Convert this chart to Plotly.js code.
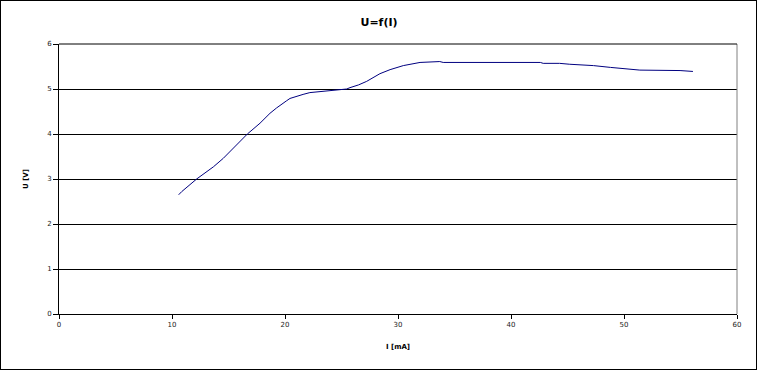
<!DOCTYPE html>
<html>
<head>
<meta charset="utf-8">
<script src="https://cdn.plot.ly/plotly-3.0.1.min.js"></script>
<style>
html,body{margin:0;padding:0;background:#fff;}
#wrap{position:relative;width:758px;height:370px;}
#frame{position:absolute;left:0;top:0;width:757px;height:370px;box-sizing:border-box;border:1px solid #000;pointer-events:none;}
</style>
</head>
<body>
<div id="wrap"><div id="chart" style="width:758px;height:370px;"></div><div id="frame"></div></div>
<script>
var currentI = [10.59, 10.86, 12.18, 13.66, 14.54, 15.72, 16.67, 17.79, 18.23, 18.67, 19.26, 19.56, 20.15, 20.44, 21.03, 21.6, 22.2, 23.4, 24.87, 25.46, 25.75, 26.5, 27.23, 27.8, 28.4, 29.3, 30.47, 31.95, 33.7, 34.0, 35.5, 42.6, 42.85, 44.3, 45.2, 46.4, 47.3, 48.8, 49.9, 51.4, 54.96, 56.1];
var voltageU = [2.65, 2.72, 3.00, 3.27, 3.46, 3.76, 4.00, 4.24, 4.36, 4.46, 4.58, 4.64, 4.74, 4.79, 4.84, 4.88, 4.92, 4.95, 4.97, 5.00, 5.03, 5.09, 5.17, 5.25, 5.34, 5.43, 5.52, 5.59, 5.61, 5.59, 5.59, 5.59, 5.57, 5.57, 5.55, 5.54, 5.52, 5.48, 5.45, 5.42, 5.41, 5.39];
var xTicks = [0, 10, 20, 30, 40, 50, 60];
var yTicks = [0, 1, 2, 3, 4, 5, 6];

var trace = {
  x: currentI, y: voltageU, type: 'scatter', mode: 'lines',
  line: {color: '#000080', width: 1}, hoverinfo: 'skip'
};
var tickFont = {family: 'DejaVu Sans, sans-serif', size: 7, color: '#222'};
var layout = {
  width: 758, height: 370,
  margin: {l: 59, r: 21, t: 44, b: 56},
  paper_bgcolor: '#fff', plot_bgcolor: '#fff',
  showlegend: false,
  title: {text: '<b>U=f(I)</b>', font: {family: 'DejaVu Sans, sans-serif', size: 11, color: '#000'}, x: 0.5, xanchor: 'center', y: 0.94, yanchor: 'middle'},
  xaxis: {
    range: [0, 60], tickvals: xTicks, ticktext: xTicks.map(String),
    ticks: 'outside', ticklen: 4, tickcolor: '#000', tickwidth: 1,
    showline: true, linecolor: '#000', linewidth: 1,
    showgrid: false, zeroline: false, tickfont: tickFont,
    title: {text: '<b>I [mA]</b>', font: {family: 'DejaVu Sans, sans-serif', size: 7, color: '#000'}, standoff: 15}
  },
  yaxis: {
    range: [0, 6], tickvals: yTicks, ticktext: yTicks.map(String),
    ticks: 'outside', ticklen: 5, tickcolor: '#000', tickwidth: 1,
    showline: true, linecolor: '#000', linewidth: 1,
    showgrid: true, gridcolor: '#000', gridwidth: 1, zeroline: false, tickfont: tickFont,
    title: {text: '<b>U [V]</b>', font: {family: 'DejaVu Sans, sans-serif', size: 7, color: '#000'}, standoff: 17}
  },
  shapes: [
    {type: 'line', xref: 'paper', yref: 'paper', x0: 1, x1: 1, y0: 0, y1: 1, line: {color: '#808080', width: 1}},
    {type: 'line', xref: 'paper', yref: 'paper', x0: 0, x1: 1, y0: 1, y1: 1, line: {color: '#000', width: 1}}
  ]
};
Plotly.newPlot('chart', [trace], layout, {displayModeBar: false, staticPlot: true});
</script>
</body>
</html>
